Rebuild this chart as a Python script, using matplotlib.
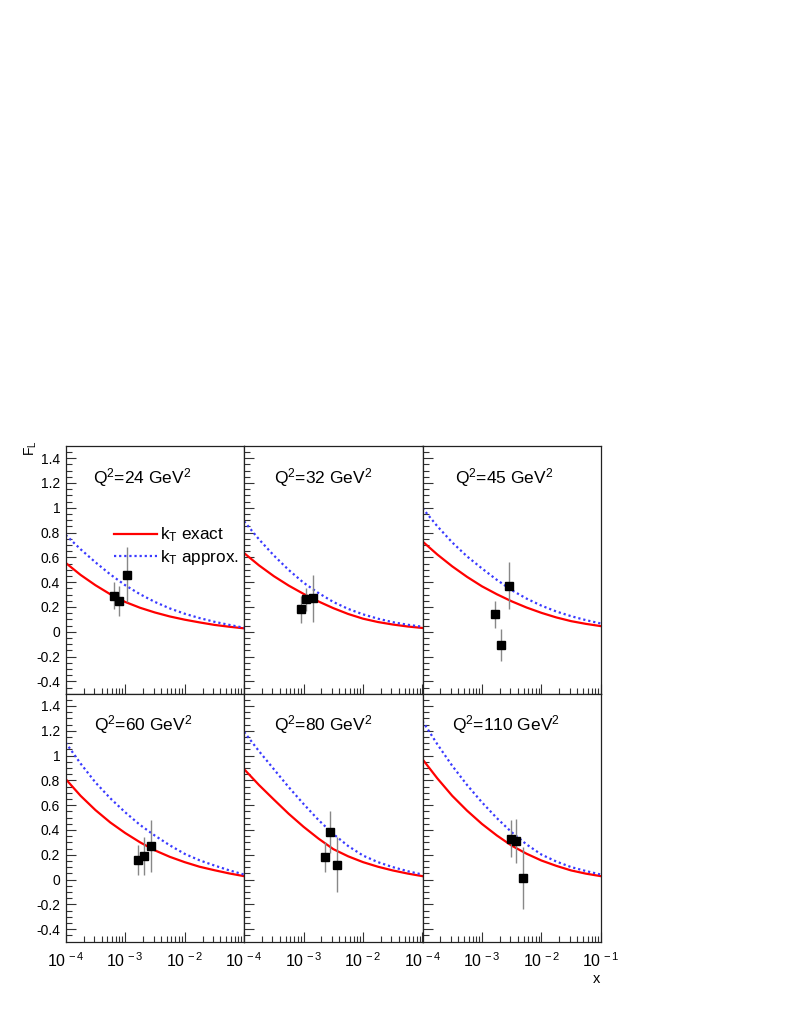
#! /usr/bin/env python3

'''
F_L vs x in six Q^2 bins: k_T exact / k_T approx. curves with data points
'''

import matplotlib
matplotlib.use('Agg')
import matplotlib.pyplot as plt
from matplotlib.ticker import FixedLocator, NullFormatter, LogLocator


plt.rcParams['font.family'] = ['Liberation Sans', 'DejaVu Sans']
plt.rcParams['mathtext.fontset'] = 'custom'
plt.rcParams['mathtext.rm'] = 'Liberation Sans'
plt.rcParams['mathtext.it'] = 'Liberation Sans:italic'
plt.rcParams['axes.unicode_minus'] = False


q2_values = [24, 32, 45, 60, 80, 110]

# curve sample points: every quarter decade from 1e-4 to 1e-1
x_curve = [1e-4, 1.78e-4, 3.16e-4, 5.62e-4, 1e-3, 1.78e-3, 3.16e-3,
           5.62e-3, 1e-2, 1.78e-2, 3.16e-2, 5.62e-2, 1e-1]

kt_exact = [
    [.555, .458, .375, .302, .240, .193, .155, .123, .097, .075, .055, .040, .027],
    [.634, .535, .448, .372, .305, .244, .190, .143, .105, .078, .058, .042, .030],
    [.728, .622, .527, .442, .366, .302, .245, .195, .152, .115, .085, .063, .045],
    [.810, .675, .560, .460, .375, .300, .235, .183, .140, .103, .075, .049, .027],
    [.890, .762, .645, .530, .425, .330, .245, .187, .140, .103, .073, .048, .027],
    [.970, .815, .675, .555, .448, .355, .273, .208, .153, .110, .073, .047, .027],
]

kt_approx = [
    [.780, .665, .560, .462, .375, .302, .240, .188, .145, .110, .080, .055, .032],
    [.890, .745, .615, .498, .395, .312, .240, .184, .140, .105, .077, .056, .040],
    [.996, .850, .720, .607, .510, .418, .335, .267, .210, .163, .125, .093, .066],
    [1.104, .935, .783, .655, .542, .440, .354, .276, .207, .155, .113, .074, .040],
    [1.190, 1.035, .890, .745, .609, .480, .367, .270, .193, .140, .100, .067, .040],
    [1.278, 1.090, .917, .762, .622, .495, .381, .283, .201, .145, .100, .068, .040],
]

# measured F_L points
data_x = [
    [6.6e-4, 8.0e-4, 1.07e-3],
    [9.1e-4, 1.11e-3, 1.43e-3],
    [1.64e-3, 2.08e-3, 2.84e-3],
    [1.64e-3, 2.05e-3, 2.69e-3],
    [2.31e-3, 2.80e-3, 3.68e-3],
    [3.06e-3, 3.78e-3, 4.97e-3],
]
data_y = [
    [0.29, 0.25, 0.46],
    [0.18, 0.26, 0.27],
    [0.14, -0.11, 0.37],
    [0.16, 0.19, 0.27],
    [0.18, 0.38, 0.12],
    [0.33, 0.31, 0.01],
]
data_err = [
    [0.11, 0.12, 0.22],
    [0.11, 0.09, 0.19],
    [0.11, 0.13, 0.19],
    [0.12, 0.15, 0.21],
    [0.12, 0.17, 0.22],
    [0.15, 0.18, 0.25],
]

y_ticks = [-0.4, -0.2, 0, 0.2, 0.4, 0.6, 0.8, 1, 1.2, 1.4]
y_labels = ['-0.4', '-0.2', '0', '0.2', '0.4', '0.6', '0.8', '1', '1.2', '1.4']
x_ticks = [1e-4, 1e-3, 1e-2, 1e-1]
x_labels = [r'$10^{\,-4}$', r'$10^{\,-3}$', r'$10^{\,-2}$', r'$10^{\,-1}$']

red = '#ff0000'
blue = '#3a3aff'


def main():
    fig = plt.figure(figsize=(7.89, 10.21), dpi=100)
    W, H = 789.0, 1021.0
    left, width = 65.7, 178.4
    tops = [445.7, 693.5]
    height = 248.0
    q_xpos = [0.155, 0.165, 0.18, 0.157, 0.165, 0.165]

    for i, q2 in enumerate(q2_values):
        row, col = divmod(i, 3)
        ax = fig.add_axes([(left + col * width) / W,
                           1 - (tops[row] + height) / H,
                           width / W, height / H])
        ax.set_xscale('log')
        ax.set_xlim(1e-4, 1e-1)
        ax.set_ylim(-0.5, 1.5)

        ax.plot(x_curve, kt_exact[i], color=red, lw=1.6,
                label=r'k$_\mathrm{T}$ exact')
        ax.plot(x_curve, kt_approx[i], color=blue, lw=1.6, ls=(0, (1, 1.3)),
                label=r'k$_\mathrm{T}$ approx.')
        ax.errorbar(data_x[i], data_y[i], yerr=data_err[i], fmt='none',
                    ecolor='#888888', elinewidth=1.0, capsize=0, zorder=3)
        ax.plot(data_x[i], data_y[i], 's', color='black', ms=5.2, zorder=4)

        ax.text(q_xpos[i], 0.87 if row == 0 else 0.873,
                r'Q$^{2}$=%d GeV$^{2}$' % q2, transform=ax.transAxes,
                fontsize=12.5, va='center', ha='left')

        # ticks
        ax.yaxis.set_major_locator(FixedLocator(y_ticks))
        ax.yaxis.set_minor_locator(FixedLocator(
            [-0.45 + 0.05 * k for k in range(39)]))
        ax.xaxis.set_major_locator(FixedLocator(x_ticks))
        ax.xaxis.set_minor_locator(LogLocator(base=10, subs=range(2, 10)))
        ax.xaxis.set_minor_formatter(NullFormatter())
        ax.tick_params(which='both', direction='in', top=False, right=False,
                       width=0.8, color='#333333')
        ax.tick_params(which='major', length=7)
        ax.tick_params(which='minor', length=4)
        ax.tick_params(axis='y', labelsize=10, pad=4)
        ax.tick_params(axis='x', labelsize=11.5, pad=7)

        if col == 0:
            ax.set_yticklabels(y_labels)
        else:
            ax.set_yticklabels([])
        if row == 1:
            if col == 2:
                ax.set_xticklabels(x_labels)
            else:
                ax.set_xticklabels(x_labels[:3] + [''])
        else:
            ax.set_xticklabels([])

        for sp in ax.spines.values():
            sp.set_linewidth(0.9)
            sp.set_color('#222222')

        if i == 0:
            ax.legend(loc='upper left', bbox_to_anchor=(0.235, 0.705),
                      frameon=False, fontsize=12.3, handlelength=2.5,
                      handletextpad=0.15, labelspacing=0.2,
                      borderaxespad=0)

    fig.text(31 / W, 1 - 440 / H, r'F$_\mathrm{L}$', rotation=90,
             ha='center', va='top', fontsize=10)
    fig.text(597 / W, 1 - 979 / H, 'x', ha='center', va='center', fontsize=10.5)

    fig.savefig('out.png', dpi=100)


if __name__ == '__main__':
    main()
